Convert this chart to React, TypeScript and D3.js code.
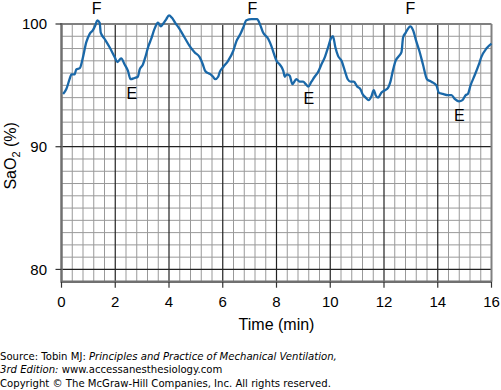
import React, { useEffect, useRef } from 'react';
import * as d3 from 'd3';

// Time (min) and SaO2 (%)
const time = [
  0.06, 0.18, 0.30, 0.37, 0.49, 0.55, 0.68, 0.80, 0.92, 1.05, 1.17, 1.26, 1.33, 1.42, 1.46, 1.60, 1.79, 1.98,
  2.08, 2.22, 2.35, 2.47, 2.57, 2.72, 2.84, 2.91, 3.03, 3.12, 3.22, 3.34, 3.46, 3.59, 3.69, 3.81, 3.90, 4.00,
  4.11, 4.23, 4.39, 4.58, 4.77, 4.95, 5.14, 5.26, 5.34, 5.45, 5.55, 5.64, 5.72, 5.83, 5.89, 6.02, 6.20, 6.39,
  6.51, 6.66, 6.76, 6.88, 7.07, 7.28, 7.38, 7.50, 7.69, 7.81, 7.90, 8.00, 8.12, 8.25, 8.31, 8.39, 8.49, 8.59,
  8.74, 8.87, 8.99, 9.09, 9.18, 9.30, 9.42, 9.55, 9.67, 9.80, 9.92, 10.02, 10.10, 10.19, 10.29, 10.42, 10.54,
  10.65, 10.76, 10.88, 11.00, 11.12, 11.20, 11.32, 11.43, 11.53, 11.62, 11.69, 11.78, 11.90, 12.03, 12.15,
  12.24, 12.33, 12.43, 12.56, 12.65, 12.71, 12.81, 12.89, 12.98, 13.08, 13.20, 13.33, 13.45, 13.60, 13.76,
  13.95, 14.04, 14.19, 14.38, 14.51, 14.63, 14.79, 14.92, 15.04, 15.12, 15.22, 15.37, 15.53, 15.62, 15.81, 16.0,
];
const sao2 = [
  94.3, 94.7, 95.5, 95.9, 95.9, 96.3, 96.4, 97.3, 98.5, 99.2, 99.5, 99.9, 100.3, 100.1, 99.3, 98.8, 98.1, 97.3,
  96.9, 97.2, 96.7, 96.2, 95.5, 95.6, 95.7, 96.3, 96.7, 97.3, 98.1, 98.8, 99.6, 100.1, 99.8, 100.1, 100.4, 100.7,
  100.5, 100.1, 99.6, 98.9, 98.2, 97.7, 97.3, 96.7, 96.2, 96.0, 95.9, 95.7, 95.5, 95.7, 96.1, 96.5, 97.0, 97.8,
  98.6, 99.2, 99.7, 100.3, 100.4, 100.4, 100.0, 99.3, 98.8, 98.2, 97.6, 97.0, 96.7, 96.2, 95.7, 95.9, 95.8, 95.1,
  95.5, 95.3, 95.3, 95.1, 94.9, 95.3, 95.7, 96.1, 96.7, 97.3, 98.1, 98.8, 99.0, 98.1, 97.4, 97.0, 96.2,
  95.5, 95.3, 95.3, 94.9, 94.7, 94.3, 94.0, 93.8, 94.1, 94.6, 94.2, 94.0, 94.4, 94.6, 94.8,
  95.3, 96.2, 97.0, 97.4, 97.7, 98.9, 99.3, 99.6, 99.8, 99.5, 98.6, 97.7, 96.7, 95.5, 95.3,
  95.0, 94.4, 94.3, 94.2, 94.2, 93.9, 93.7, 93.8, 94.2, 94.3, 95.0, 95.8, 96.7, 97.3, 98.0, 98.4,
];

// F / E markers
const markLabels = ['F', 'E', 'F', 'E', 'F', 'E'];
const markTime = [1.31, 2.62, 7.1, 9.2, 12.98, 14.8];
const markValue = [101.3, 94.4, 101.3, 94.0, 101.3, 92.6];

const xTicks = [0, 2, 4, 6, 8, 10, 12, 14, 16];
const yTicks = [80, 90, 100];

const App = () => {
  const svgRef = useRef<SVGSVGElement>(null);

  useEffect(() => {
    const width = 501;
    const height = 390;
    const left = 61.5, right = 491.5, top = 24, bottom = 281.7;

    const svg = d3.select(svgRef.current);
    svg.selectAll('*').remove();
    svg.attr('width', width).attr('height', height);

    const x = d3.scaleLinear().domain([0, 16]).range([left, right]);
    const y = d3.scaleLinear().domain([79, 100]).range([bottom, top]);

    const font = 'Liberation Sans, Arial, sans-serif';

    // minor grid
    const g = svg.append('g');
    d3.range(1, 40).filter(k => k % 5 !== 0).forEach(k => {
      g.append('line')
        .attr('x1', x(k * 0.4)).attr('x2', x(k * 0.4))
        .attr('y1', top).attr('y2', bottom)
        .attr('stroke', '#999').attr('stroke-width', 1);
    });
    d3.range(80, 100).filter(v => v % 10 !== 0).forEach(v => {
      g.append('line')
        .attr('x1', left).attr('x2', right)
        .attr('y1', y(v)).attr('y2', y(v))
        .attr('stroke', '#999').attr('stroke-width', 1);
    });

    // major grid
    xTicks.slice(1, -1).forEach(t => {
      g.append('line')
        .attr('x1', x(t)).attr('x2', x(t))
        .attr('y1', top).attr('y2', bottom)
        .attr('stroke', '#222').attr('stroke-width', 1.2);
    });
    [80, 90].forEach(v => {
      g.append('line')
        .attr('x1', left).attr('x2', right)
        .attr('y1', y(v)).attr('y2', y(v))
        .attr('stroke', '#222').attr('stroke-width', 1.2);
    });

    // frame
    g.append('line').attr('x1', left).attr('x2', right).attr('y1', top).attr('y2', top)
      .attr('stroke', '#808080').attr('stroke-width', 2);
    g.append('line').attr('x1', right).attr('x2', right).attr('y1', top).attr('y2', bottom)
      .attr('stroke', '#808080').attr('stroke-width', 2);
    g.append('line').attr('x1', left).attr('x2', left).attr('y1', top - 1).attr('y2', bottom + 1)
      .attr('stroke', '#707070').attr('stroke-width', 2.5);
    g.append('line').attr('x1', left).attr('x2', right).attr('y1', bottom).attr('y2', bottom)
      .attr('stroke', '#707070').attr('stroke-width', 2.5);

    // x ticks
    xTicks.forEach(t => {
      g.append('line').attr('x1', x(t)).attr('x2', x(t)).attr('y1', bottom).attr('y2', bottom + 6)
        .attr('stroke', '#333').attr('stroke-width', 1.2);
      g.append('text').attr('x', x(t)).attr('y', 307)
        .attr('text-anchor', 'middle').attr('font-family', font).attr('font-size', 15)
        .text(t);
    });
    // y ticks
    yTicks.forEach(v => {
      g.append('line').attr('x1', left - 6).attr('x2', left).attr('y1', y(v)).attr('y2', y(v))
        .attr('stroke', '#333').attr('stroke-width', 1.2);
      g.append('text').attr('x', 47).attr('y', y(v) + 5.4)
        .attr('text-anchor', 'end').attr('font-family', font).attr('font-size', 15)
        .text(v);
    });

    // axis titles
    g.append('text').attr('x', (left + right) / 2).attr('y', 330)
      .attr('text-anchor', 'middle').attr('font-family', font).attr('font-size', 16)
      .text('Time (min)');
    const yt = g.append('text')
      .attr('transform', `translate(16,${(top + bottom) / 2 + 3}) rotate(-90)`)
      .attr('text-anchor', 'middle').attr('font-family', font).attr('font-size', 16);
    yt.append('tspan').text('SaO');
    yt.append('tspan').attr('font-size', 11).attr('dy', 4).text('2');
    yt.append('tspan').attr('dy', -4).text(' (%)');

    // trace
    const pts = time.map((t, i) => [t, sao2[i]] as [number, number]);
    const line = d3.line<[number, number]>()
      .x(d => x(d[0])).y(d => y(d[1]))
      .curve(d3.curveMonotoneX);
    g.append('path').datum(pts).attr('d', line)
      .attr('fill', 'none').attr('stroke', '#1a68a8').attr('stroke-width', 2.3)
      .attr('stroke-linejoin', 'round');

    // F / E labels
    markLabels.forEach((m, i) => {
      g.append('text').attr('x', x(markTime[i])).attr('y', y(markValue[i]) + 6)
        .attr('text-anchor', 'middle').attr('font-family', font).attr('font-size', 16)
        .text(m);
    });

    // source footer
    const ff = 'DejaVu Sans, Verdana, sans-serif';
    const fs = 10.1;
    const f1 = g.append('text').attr('x', 0).attr('y', 360).attr('font-family', ff).attr('font-size', fs);
    f1.append('tspan').text('Source: Tobin MJ: ');
    f1.append('tspan').attr('font-style', 'italic').text('Principles and Practice of Mechanical Ventilation,');
    const f2 = g.append('text').attr('x', 0).attr('y', 373).attr('font-family', ff).attr('font-size', fs);
    f2.append('tspan').attr('font-style', 'italic').text('3rd Edition:');
    f2.append('tspan').text(' www.accessanesthesiology.com');
    g.append('text').attr('x', 0).attr('y', 387).attr('font-family', ff).attr('font-size', fs)
      .text('Copyright \u00a9 The McGraw-Hill Companies, Inc. All rights reserved.');
  }, []);

  return (
    <svg ref={svgRef} style={{ position: 'absolute', left: 0, top: 0, background: '#fff' }}></svg>
  );
};

export default App;
